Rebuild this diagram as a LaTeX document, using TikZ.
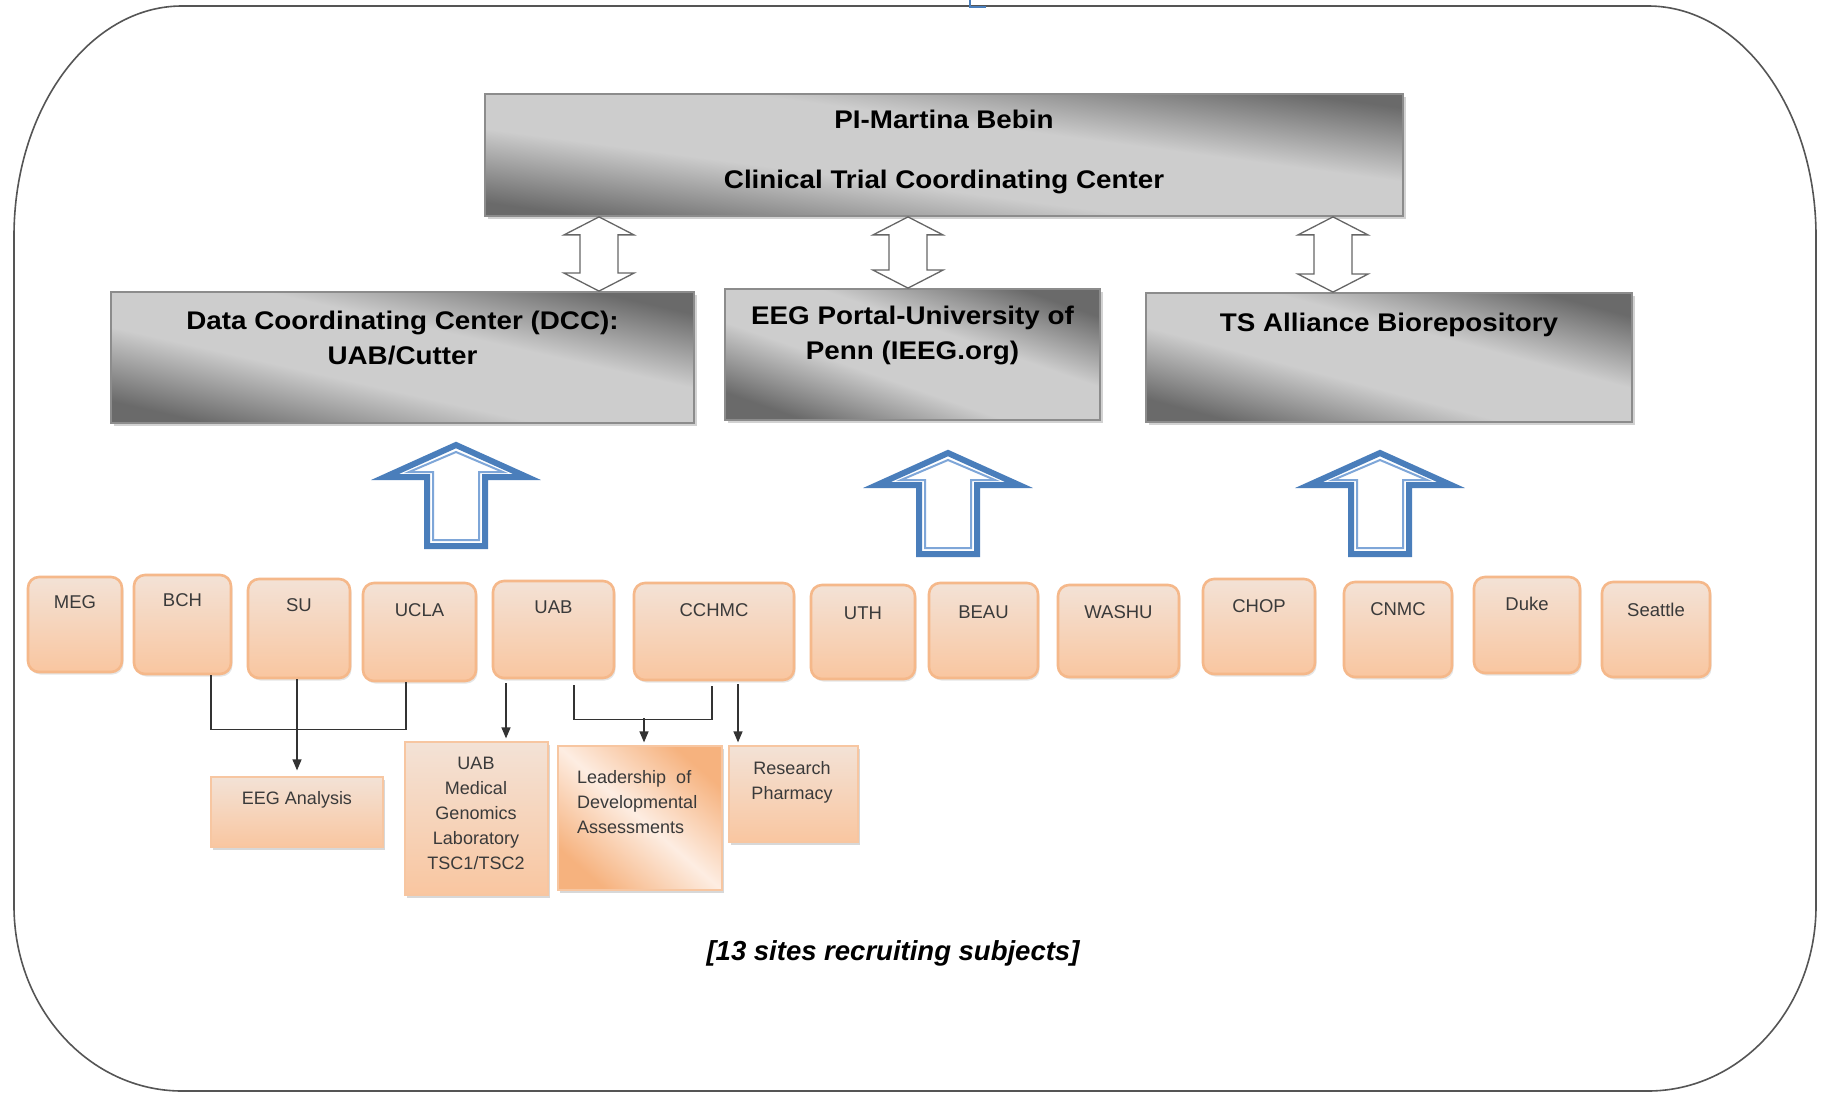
\documentclass[tikz,border=0pt]{standalone}
\usepackage{fontspec}
\setmainfont{Liberation Sans}
\usetikzlibrary{shadows,arrows.meta,calc}

\definecolor{framec}{HTML}{555555}
\definecolor{gdark}{HTML}{6A6A6A}
\definecolor{glight}{HTML}{CDCDCD}
\definecolor{gborder}{HTML}{8C8C8C}
\definecolor{ptop}{HTML}{F3E2D6}
\definecolor{pbot}{HTML}{F9C6A0}
\definecolor{pborder}{HTML}{F5B88A}
\definecolor{ablue}{HTML}{4A7EBB}
\definecolor{abluein}{HTML}{7EA6D8}
\definecolor{otxt}{HTML}{3A3A3A}
\definecolor{pdark}{HTML}{F6B27E}
\definecolor{plight}{HTML}{FDEDE2}

\pgfdeclarehorizontalshading{graydiag}{100bp}{color(0bp)=(gdark); color(25bp)=(gdark); color(42bp)=(glight); color(58bp)=(glight); color(75bp)=(gdark); color(100bp)=(gdark)}
\pgfdeclarehorizontalshading{peachdiag}{100bp}{color(0bp)=(pdark); color(25bp)=(pdark); color(50bp)=(plight); color(75bp)=(pdark); color(100bp)=(pdark)}

\newcommand{\dblarr}[3]{%
  \draw[dblarrow] let \p1=(#2.south), \p2=(#3.north) in
   (#1pt,\y1) -- ++(35pt,-18pt) -- ++(-16pt,0pt) -- (#1pt+19pt,\y2+18pt) -- ++(16pt,0pt)
   -- (#1pt,\y2) -- ++(-35pt,18pt) -- ++(16pt,0pt) -- (#1pt-19pt,\y1-18pt) -- ++(-16pt,0pt) -- cycle;}

\newcommand{\bluearr}[3]{%
  \draw[bluearrow] (#1,#2+3) -- (#1+71,#2+35) -- (#1+29,#2+35) -- (#1+29,#3-3) -- (#1-29,#3-3)
     -- (#1-29,#2+35) -- (#1-71,#2+35) -- cycle;
  \draw[bluein] (#1,#2+10) -- (#1+47,#2+30) -- (#1+23,#2+30) -- (#1+23,#3-9) -- (#1-23,#3-9)
     -- (#1-23,#2+30) -- (#1-47,#2+30) -- cycle;}

\begin{document}
\begin{tikzpicture}[x=1pt,y=-1pt,
  graybox/.style={draw=gborder, line width=1.8pt, shading=graydiag, inner sep=0pt,
     drop shadow={shadow xshift=3pt, shadow yshift=-3pt, opacity=0.35}},
  headtxt/.style={inner sep=0pt, align=center, anchor=north, xscale=1.09,
     font=\bfseries\fontsize{25.5}{35}\selectfont},
  site/.style={draw=pborder, line width=2.6pt, rounded corners=11pt, top color=ptop, bottom color=pbot,
     inner sep=0pt, drop shadow={shadow xshift=1.5pt, shadow yshift=-2.5pt, opacity=0.2}},
  sitetxt/.style={font=\fontsize{18.5}{22}\selectfont, text=otxt, inner sep=0pt, anchor=base},
  lowbox/.style={draw=pborder!80!white, line width=1.2pt, top color=ptop, bottom color=pbot, inner sep=0pt,
     drop shadow={shadow xshift=1.5pt, shadow yshift=-3pt, opacity=0.3}},
  lowtxt/.style={font=\fontsize{18}{25}\selectfont, text=otxt, inner sep=0pt, align=center},
  conn/.style={draw=black!80, line width=1.3pt},
  arr/.style={conn, -{Triangle[length=11pt,width=9pt]}},
  dblarrow/.style={draw=black!60, fill=white, line width=1.3pt, line join=miter},
  bluearrow/.style={draw=ablue, fill=white, line width=6pt, line join=miter},
  bluein/.style={draw=abluein, line width=2pt, line join=miter},
  caption/.style={font=\bfseries\itshape\fontsize{27.5}{32}\selectfont, inner sep=0pt, anchor=base}
]
\useasboundingbox (0,0) rectangle (1824,1094);
\fill[white] (0,0) rectangle (1824,1094);

% outer frame
\draw[framec, line width=1.6pt] (182,6) -- (1648,6)
  .. controls (1740.8,6) and (1816,109) .. (1816,236) -- (1816,906)
  .. controls (1816,1008.2) and (1740.8,1091) .. (1648,1091) -- (182,1091)
  .. controls (89.2,1091) and (14,1008.2) .. (14,906) -- (14,236)
  .. controls (14,109) and (89.2,6) .. (182,6) -- cycle;

% small blue fragment at top edge
\draw[ablue, line width=2.5pt] (970,0) -- (970,7) -- (986,7);

% top box
\node[graybox, shading angle=82.4, minimum width=918pt, minimum height=122pt] (top) at (944,155) {};
\node[headtxt, font=\bfseries\fontsize{25.5}{60}\selectfont] (topt) at (944,109.5)
  {PI-Martina Bebin\\Clinical Trial Coordinating Center};

% middle boxes
\node[graybox, shading angle=77.3, minimum width=583pt, minimum height=131pt] (dcc) at (402.5,357.5) {};
\node[headtxt] (dcct) at (402.5,310.6) {Data Coordinating Center (DCC):\\UAB/Cutter};
\node[graybox, shading angle=70.7, minimum width=375pt, minimum height=131pt] (eegp) at (912.5,354.5) {};
\node[headtxt] (eegpt) at (912.5,305.6) {EEG Portal-University of\\Penn (IEEG.org)};
\node[graybox, shading angle=75.1, minimum width=486pt, minimum height=129pt] (tsa) at (1389,357.5) {};
\node[headtxt] (tsat) at (1389,312.8) {TS Alliance Biorepository};

% double arrows
\dblarr{599}{top}{dcc}
\dblarr{908}{top}{eegp}
\dblarr{1333}{top}{tsa}

% blue up arrows
\bluearr{456}{442}{549}
\bluearr{948}{450}{557}
\bluearr{1380}{450}{557}

% site boxes
\node[site, minimum width=94pt,  minimum height=95pt] (meg)   at (75,624.5) {};
\node[sitetxt] (megt) at (75,608.6) {MEG};
\node[site, minimum width=97pt,  minimum height=99pt] (bch)   at (182.5,624.5) {};
\node[sitetxt] (bcht) at (182.5,606.6) {BCH};
\node[site, minimum width=102pt, minimum height=99pt] (su)    at (299,628.5) {};
\node[sitetxt] (sut) at (299,611.6) {SU};
\node[site, minimum width=113pt, minimum height=98pt] (ucla)  at (419.5,632) {};
\node[sitetxt] (uclat) at (419.5,616.6) {UCLA};
\node[site, minimum width=121pt, minimum height=97pt] (uab)   at (553.5,629.5) {};
\node[sitetxt] (uabt) at (553.5,613.6) {UAB};
\node[site, minimum width=160pt, minimum height=97pt] (cchmc) at (714,631.5) {};
\node[sitetxt] (cchmct) at (714,616.6) {CCHMC};
\node[site, minimum width=104pt, minimum height=94pt] (uth)   at (863,632) {};
\node[sitetxt] (utht) at (863,619.6) {UTH};
\node[site, minimum width=109pt, minimum height=95pt] (beau)  at (983.5,630.5) {};
\node[sitetxt] (beaut) at (983.5,618.6) {BEAU};
\node[site, minimum width=121pt, minimum height=92pt] (washu) at (1118.5,631) {};
\node[sitetxt] (washut) at (1118.5,618.6) {WASHU};
\node[site, minimum width=112pt, minimum height=95pt] (chop)  at (1259,626.5) {};
\node[sitetxt] (chopt) at (1259,612.6) {CHOP};
\node[site, minimum width=108pt, minimum height=95pt] (cnmc)  at (1398,629.5) {};
\node[sitetxt] (cnmct) at (1398,615.6) {CNMC};
\node[site, minimum width=106pt, minimum height=96pt] (duke)  at (1527,625) {};
\node[sitetxt] (duket) at (1527,610.6) {Duke};
\node[site, minimum width=108pt, minimum height=95pt] (seattle) at (1656,629.5) {};
\node[sitetxt] (seattlet) at (1656,616.6) {Seattle};

% lower boxes
\node[lowbox, minimum width=172pt, minimum height=70pt] (eega) at (297,812) {};
\node[lowtxt, anchor=base] (eegat) at (297,804.5) {EEG Analysis};
\node[lowbox, minimum width=143pt, minimum height=153pt] (uabmed) at (476.5,818.5) {};
\node[lowtxt, anchor=north] (uabmedt) at (476,756.5) {UAB\\Medical\\Genomics\\Laboratory\\TSC1/TSC2};
\node[lowbox, shading=peachdiag, shading angle=48.7, minimum width=164pt, minimum height=144pt] (lead) at (640,818) {};
\node[lowtxt, align=left, anchor=north west] (leadt) at (577,770) {Leadership \ of\\Developmental\\Assessments};
\node[lowbox, minimum width=129pt, minimum height=96pt] (pharm) at (793.5,794) {};
\node[lowtxt, anchor=north] (pharmt) at (792,761) {Research\\Pharmacy};

% connectors
\draw[conn] ([xshift=28.5pt]bch.south) -- ++(0,54) -| ([xshift=-13.5pt]ucla.south);
\draw[arr, shorten >=6pt] ([xshift=-2pt]su.south) -- ([xshift=-2pt]su.south |- eega.north);
\draw[arr, shorten <=4pt, shorten >=3pt] ([xshift=-47.5pt]uab.south) -- ([xshift=-47.5pt]uab.south |- uabmed.north);
\draw[conn, shorten <=6pt, shorten >=5pt] ([xshift=20.5pt]uab.south) -- ++(0,40) -| ([xshift=-2pt]cchmc.south);
\coordinate (jl) at (644,718);
\draw[arr, shorten >=3pt] (jl) -- (jl |- lead.north);
\draw[arr, shorten <=3pt, shorten >=3pt] ([xshift=24pt]cchmc.south) -- ([xshift=24pt]cchmc.south |- pharm.north);

% caption
\node[caption] (cap) at (893,960) {[13 sites recruiting subjects]};
\end{tikzpicture}
\end{document}
